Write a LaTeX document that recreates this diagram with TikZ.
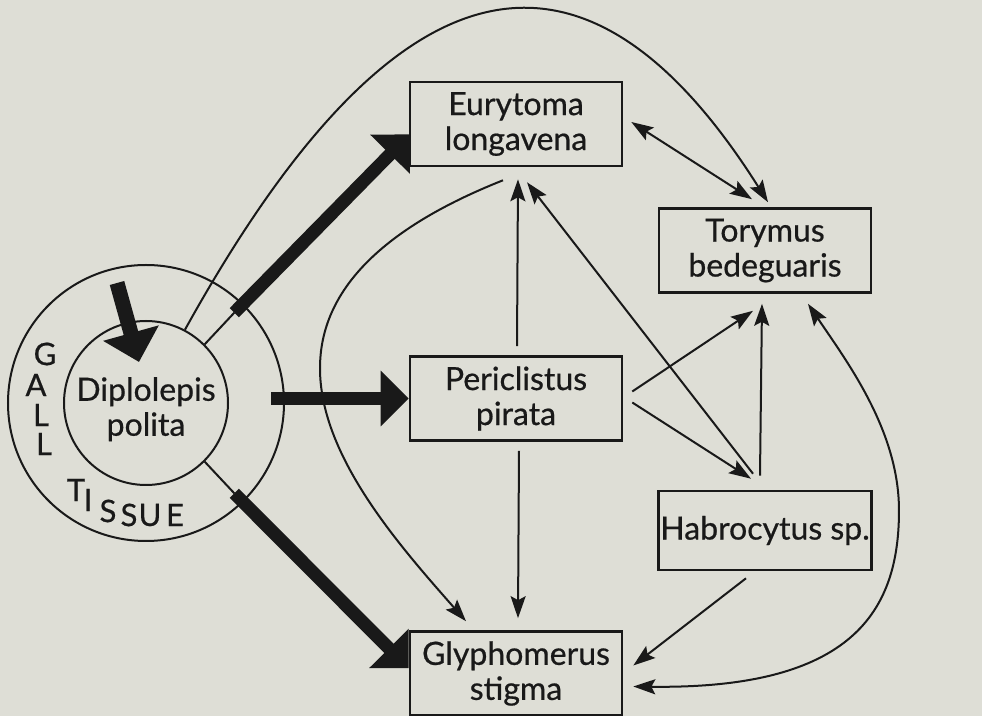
\documentclass[tikz,border=0pt]{standalone}
\usepackage{fontspec}
\setmainfont{Lato}[FakeBold=0.6]
\usetikzlibrary{positioning,calc,arrows.meta}
\definecolor{paper}{RGB}{222,222,214}
\definecolor{ink}{RGB}{25,25,25}
\begin{document}
\begin{tikzpicture}[x=0.5pt,y=-0.5pt,node distance=137.5pt,on grid,every node/.style={inner sep=1pt,text=ink,font=\fontsize{16}{17.5}\selectfont}]
\tikzstyle{box}=[draw=ink,line width=1.3pt,minimum width=106pt,minimum height=42pt,align=center]
\tikzstyle{arrow}=[draw=ink,line width=1pt,-{Stealth[length=11pt,width=7.5pt,inset=2pt]}]
\tikzstyle{biarrow}=[arrow,{Stealth[length=11pt,width=7.5pt,inset=2pt]}-{Stealth[length=11pt,width=7.5pt,inset=2pt]}]
\tikzstyle{bigarrow}=[draw=ink,line width=6.5pt,-{Triangle[length=14pt,width=27pt]}]
\tikzstyle{letter}=[inner sep=0pt,font=\fontsize{15.5}{15.5}\selectfont]
\fill[paper](0,0) rectangle (982,716);
\useasboundingbox (0,0) rectangle (982,716);

\node[circle,draw=ink,line width=1pt,minimum size=138pt](ga) at (146,403){};
\node[circle,draw=ink,line width=1pt,minimum size=82pt,inner sep=0pt,align=center](dp) at (ga){\rule{0pt}{18pt}Diplolepis\\polita};

\node[box](eu) at (516,124){Eurytoma\\longavena};
\node[box,below=137.25pt of eu](pe){Periclistus\\pirata};
\node[box,below=of pe](gl){Glyphomerus\\stigma};
\node[box,below right=63.25pt and 124.5pt of eu](to){Torymus\\bedeguaris};
\node[box,below=140pt of to,minimum height=39.5pt](ha){Habrocytus sp.};

\node[letter](lG) at (45,354){G};
\node[letter](lA) at (36,385){A};
\node[letter](lL) at (41,415){L};
\node[letter](lLL) at (44,444){L};
\node[letter](lT) at (76,490){T};
\node[letter](lI) at (88,500){I};
\node[letter](lS) at (108,511){S};
\node[letter](lSS) at (129,515){S};
\node[letter](lU) at (150,515){U};
\node[letter](lE) at (175,515){E};

\coordinate (b1) at ($(ga.45)+(-10,8)$);
\coordinate (b2) at ($(ga.-45)+(-10,-8)$);
\draw[ink,line width=1pt](dp.45)--(b1);
\draw[ink,line width=1pt](dp.-45)--(b2);
\path[bigarrow](b1)--($(eu.south west)+(1,-33)$);
\path[bigarrow](b2)--($(gl.north west)+(0,38)$);
\path[bigarrow]($(ga.east |- pe.west)+(-14,0)$)--(pe.west);
\path[bigarrow,line width=7.5pt,-{Triangle[length=15pt,width=28pt]}]($(ga.center)+(-29,-120)$)--($(dp.center)+(-7,-41)$);

\path[arrow](dp.62) .. controls +(180,-325) and +(-208,-330) .. ($(to.north)+(3,-5)$);
\path[arrow]($(eu.south)+(-13,13)$) .. controls +(-315,125) and +(-112,-127) .. ($(gl.north)+(-50,-9)$);
\path[arrow]($(pe.north)+(1,-9)$)--($(eu.south)+(2,12)$);
\path[arrow]($(pe.south)+(3,9)$)--($(gl.north)+(2,-12)$);
\path[arrow]($(ha.north)+(-12,-16)$)--($(eu.south)+(11,15)$);
\path[arrow]($(pe.east)+(9,-7)$)--($(to.south)+(-12,17)$);
\path[arrow]($(pe.east)+(9,4)$)--($(ha.north)+(-14,-11)$);
\path[arrow]($(ha.north)+(-5,-14)$)--($(to.south)+(-3,10)$);
\path[arrow]($(ha.south)+(-19,7)$)--($(gl.east)+(10,-8)$);
\path[biarrow]($(eu.east)+(8,-2)$)--($(to.north)+(-13,-8)$);
\path[biarrow]($(gl.east)+(10,13)$) .. controls +(220,3) and +(0,100) .. ($(ha.east)+(26,-20)$) .. controls +(0,-80) and +(39,58) .. ($(to.south)+(43,10)$);
\end{tikzpicture}
\end{document}
